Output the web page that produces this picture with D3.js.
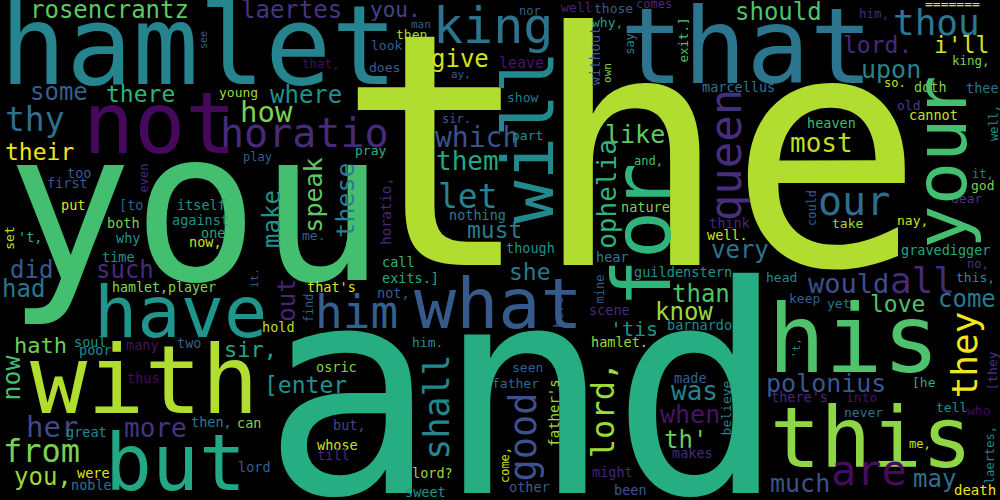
<!DOCTYPE html>
<html>
<head>
<meta charset="utf-8">
<script src="https://cdn.jsdelivr.net/npm/d3@7"></script>
<style>
  body { margin: 0; background: #000; }
  svg { display: block; }
</style>
</head>
<body>
<div id="container"></div>
<script>
// horizontal words: x = left edge, y = baseline (cloud units 0-1000 x 0-500)
var flatWords = [
  "the","you","and","hamlet","that","not","with","but","this","his",
  "what","have","king","horatio","him","are","our","thou","all","thy",
  "let","from","how","her","which","would","most","more","them","was",
  "like","upon","polonius","when","much","rosencrantz","some","laertes","give","where",
  "should","very","come","did","such","had","you,","than","know","th'",
  "may","there","their","lord.","i'll","[enter","love","she","must","hath",
  "sir,","you.","'tis","young","man","then","look","that,","does","ay,",
  "sir.","pray","play","nor","well","those","comes","why,","leave","show",
  "part","and,","marcellus","=======","him,","king,","so.","doth","thee","old",
  "cannot","heaven","it,","god","dear","take","nay,","gravedigger","no,","this,",
  "head","keep","yet","[he","there's","into","never","tell","who","me,",
  "death","barnardo","hamlet.","seen","father","other","might","been","made","makes",
  "hold","him.","osric","can","but,","whose","till","lord","lord?","sweet",
  "soul","poor","many","two","thus","great","then,","were","noble","too",
  "first","put","[to","itself","against","both","one","now,","'t,","why",
  "time","hamlet,player","me.","nothing","call","exits.]","that's","not,","nature","think",
  "well.","though","hear","guildenstern","scene"
];
var flatWeights = [
  325,210,290,110,105,85,95,78,84,95,
  70,72,50,40,46,42,40,36,36,33,
  33,32,29,29,28,27,26,26,26,26,
  25,25,25,25,25,24,24,24,24,24,
  24,24,24,24,24,24,24,24,24,24,
  24,23,23,23,23,23,23,23,23,22,
  22,21,20,13,11,13,13,12.5,13,11,
  12,13,12,12,13,13,12,13,15,13,
  13,12,13.5,13,12.5,12.5,12,13.5,13.5,13,
  13.5,13.5,12,13,13,13,13,13.5,12,13,
  13,13,13,13,13.5,13,13,13,13,12,
  14,13.5,13.5,13,13,13.5,13.5,13.5,13.5,13.5,
  13.5,13,13.5,13.5,13.5,13.5,13.5,13.5,13.5,13.5,
  13.5,13.5,13.5,13.5,13.5,13.5,13.5,13.5,13.5,13.5,
  13.5,13.5,13.5,13.5,13.5,13.5,13.5,13.5,13.5,13.5,
  13.5,13.3,13,13.5,13.5,13.5,13.5,13.5,13.5,13.5,
  13.5,13.5,13.5,13.6,13.5
];
var flatX = [
  337,6,262,0,620,83,30,105,770,768,
  414,94,433,220,315,831,818,893,890,5,
  438,3,240,26,435,808,790,124,436,671,
  605,861,766,660,770,30,30,241,431,270,
  735,711,938,10,96,2,14,672,655,664,
  913,106,5,843,934,264,870,509,467,14,
  224,370,610,219,411,396,371,302,369,451,
  442,355,243,519,561,594,636,592,499,507,
  512,634,702,925,859,952,884,914,966,897,
  909,807,972,971,951,832,897,901,967,956,
  766,789,827,912,771,846,844,936,967,909,
  954,667,591,512,492,509,592,614,674,672,
  262,412,316,237,333,317,317,238,412,405,
  74,79,126,177,127,66,191,77,71,67,
  47,61,119,177,172,107,201,189,18,116,
  102,112,302,449,382,382,307,377,621,709,
  707,506,596,634,589
];
var flatY = [
  265,280,493,84,83,153,413,490,467,372,
  328,337,43,147,328,485,215,35,293,131,
  208,462,122,437,147,293,152,437,170,400,
  143,78,392,423,492,18,100,18,67,103,
  20,258,307,278,278,297,485,302,320,448,
  487,102,160,53,53,393,312,280,238,353,
  357,17,336,97,28,39,50,68,72,78,
  123,155,161,15,12,13,8,27,68,102,
  140,165,92,8,18,65,87,92,93,110,
  120,128,178,190,203,228,225,255,268,282,
  282,303,308,387,402,402,417,412,415,448,
  495,330,347,372,388,492,477,495,383,458,
  332,347,372,428,430,450,460,472,478,497,
  347,355,350,348,383,437,427,478,490,178,
  188,210,210,210,225,228,238,247,242,243,
  262,292,240,220,267,283,292,298,212,228,
  240,253,262,277,315
];
var flatTones = [
  .88,.70,.62,.45,.39,.02,.88,.60,.83,.72,
  .28,.52,.38,.12,.30,.03,.35,.40,.12,.36,
  .45,.80,.80,.22,.25,.24,.90,.15,.60,.44,
  .75,.45,.27,.05,.25,.75,.30,.15,.93,.50,
  .72,.38,.41,.28,.12,.40,.85,.72,.85,.77,
  .36,.65,.98,.12,.93,.50,.72,.40,.40,.78,
  .60,.20,.50,.85,.30,.88,.30,.02,.30,.30,
  .30,.65,.30,.30,.10,.30,.12,.58,.05,.42,
  .50,.70,.38,.97,.12,.80,.92,.80,.38,.18,
  .92,.68,.42,.80,.15,.85,.92,.60,.15,.50,
  .48,.30,.38,.62,.12,.05,.38,.50,.02,.92,
  .97,.47,.85,.30,.33,.30,.10,.27,.30,.12,
  .90,.50,.82,.80,.20,.92,.12,.30,.85,.50,
  .50,.47,.05,.30,.03,.47,.42,.95,.38,.30,
  .27,.95,.30,.50,.50,.80,.60,.92,.65,.50,
  .50,.82,.30,.42,.65,.60,.95,.30,.80,.10,
  .92,.50,.42,.50,.12
];

// vertical words (read bottom to top): x = baseline, y = middle of the word
var sideWords = [
  "see","will","ophelia","queen","your","without","own","say","exit.]","well,",
  "could","they","'t,","[they","laertes,","father's","good","come,","lord,","believe",
  "shall","now","even","set","make","speak","these","horatio,","it.","out",
  "find","mine","here","for"
];
var sideWeights = [
  10,72,26,44,72,14,11,12,12.5,12,
  12,36,11,13,12,14,37,12,32,13,
  35,25,12,13,24,25,25,14,11,24,
  12,12,13,80
];
var sideX = [
  207,553,616,741,966,600,611,634,688,998,
  816,977,800,997,994,559,536,509,614,731,
  449,20,148,14,280,322,354,391,258,295,
  313,604,563,670
];
var sideY = [
  40,137,194,155,162,56,73,44,40,123,
  208,355,348,371,455,413,437,465,410,408,
  407,378,178,238,219,195,200,211,278,300,
  308,289,312,235
];
var sideTones = [
  .30,.47,.65,.13,.70,.28,.80,.45,.72,.50,
  .30,.98,.50,.15,.47,.85,.25,.92,.85,.45,
  .46,.70,.12,.92,.50,.75,.42,.12,.30,.10,
  .30,.30,.27,.65
];

var width = 1000, height = 500;

var svg = d3.select("#container")
  .append("svg")
    .attr("width", width)
    .attr("height", height);

svg.append("rect")
  .attr("width", width)
  .attr("height", height)
  .attr("fill", "#000");

var x = d3.scaleLinear().domain([0, 1000]).range([0, width]);
var y = d3.scaleLinear().domain([0, 500]).range([0, height]);
// weights are already in px at this canvas size
var size = d3.scaleLinear()
  .domain([0, d3.max(flatWeights)])
  .range([0, d3.max(flatWeights)]);
var colour = d3.scaleSequential(d3.interpolateViridis).domain([0, 1]);

var flat = flatWords.map(function(w, i) {
  return { text: w, weight: flatWeights[i], x: flatX[i], y: flatY[i], tone: flatTones[i] };
});
var side = sideWords.map(function(w, i) {
  return { text: w, weight: sideWeights[i], x: sideX[i], y: sideY[i], tone: sideTones[i] };
});

var cloud = svg.append("g")
  .attr("font-family", "'DejaVu Sans Mono', monospace");

cloud.selectAll(".flat")
    .data(flat)
  .enter().append("text")
    .attr("class", "flat")
    .attr("x", function(d) { return x(d.x); })
    .attr("y", function(d) { return y(d.y); })
    .attr("font-size", function(d) { return size(d.weight); })
    .attr("fill", function(d) { return colour(d.tone); })
    .attr("text-anchor", "start")
    .text(function(d) { return d.text; });

cloud.selectAll(".side")
    .data(side)
  .enter().append("text")
    .attr("class", "side")
    .attr("transform", function(d) {
      return "translate(" + x(d.x) + "," + y(d.y) + ") rotate(-90)";
    })
    .attr("font-size", function(d) { return size(d.weight); })
    .attr("fill", function(d) { return colour(d.tone); })
    .attr("text-anchor", "middle")
    .text(function(d) { return d.text; });
</script>
</body>
</html>
